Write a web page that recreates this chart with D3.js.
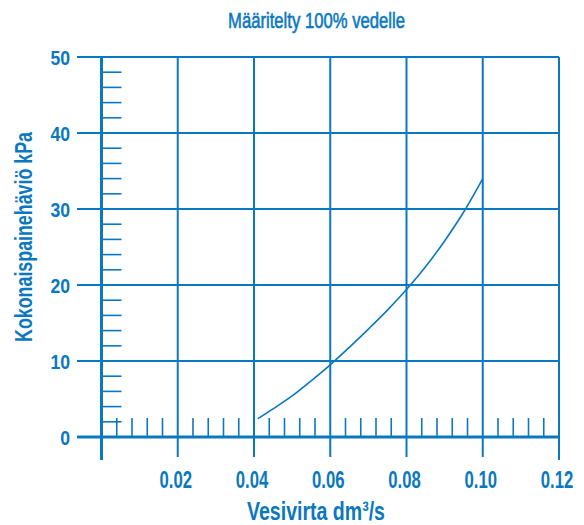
<!DOCTYPE html>
<html>
<head>
<meta charset="utf-8">
<script src="https://cdn.jsdelivr.net/npm/d3@7"></script>
<style>
  html, body { margin: 0; padding: 0; background: #fff; }
  svg { display: block; }
  text { font-family: "Liberation Sans", Arial, sans-serif; fill: #0a78c0; font-weight: bold; }
</style>
</head>
<body>
<svg id="chart" width="584" height="525"></svg>
<script>
// ---- data ----
const title = "Määritelty 100% vedelle";
const xTitle = "Vesivirta dm³/s";
const yTitle = "Kokonaispainehäviö kPa";
const xTicks = [0.02, 0.04, 0.06, 0.08, 0.10, 0.12];
const xTickLabels = ["0.02", "0.04", "0.06", "0.08", "0.10", "0.12"];
const yTicks = [0, 10, 20, 30, 40, 50];
const yMinor = [2, 4, 6, 8, 12, 14, 16, 18, 22, 24, 26, 28, 32, 34, 36, 38, 42, 44, 46, 48];
const xMinor = [0.004, 0.008, 0.012, 0.016, 0.024, 0.028, 0.032, 0.036, 0.044, 0.048, 0.052, 0.056,
                0.064, 0.068, 0.072, 0.076, 0.084, 0.088, 0.092, 0.096, 0.104, 0.108, 0.112, 0.116];
const flow =     [0.041, 0.045, 0.05, 0.055, 0.06, 0.065, 0.07, 0.075, 0.08, 0.085, 0.09, 0.095, 0.10];
const pressure = [2.4,   3.7,   5.4,  7.4,   9.5,  11.8,  14.2, 16.7,  19.4, 22.4,  25.8, 29.6,  34.0];

// ---- layout ----
const color = "#0a78c0";
const svg = d3.select("#chart");
const x = d3.scaleLinear().domain([0, 0.12]).range([101.5, 559]);
const y = d3.scaleLinear().domain([0, 50]).range([437, 57]);
const gridLeft = 77;

// squeeze a text horizontally around its anchor so that it reaches a target width
function squeeze(sel, widthFn) {
  sel.each(function(d, i) {
    const t = d3.select(this);
    const ax = +t.attr("x"), ay = +t.attr("y");
    const s = widthFn(d, i) / this.getComputedTextLength();
    t.attr("transform", `translate(${ax},${ay}) scale(${s},1) translate(${-ax},${-ay})`);
  });
}

// horizontal gridlines
svg.append("g").selectAll("line").data(yTicks.filter(d => d > 0)).join("line")
  .attr("x1", gridLeft).attr("x2", x(0.12))
  .attr("y1", d => y(d)).attr("y2", d => y(d))
  .attr("stroke", color).attr("stroke-width", 2);

// vertical gridlines
svg.append("g").selectAll("line").data(xTicks).join("line")
  .attr("x1", d => x(d)).attr("x2", d => x(d))
  .attr("y1", y(50)).attr("y2", d => d === 0.12 ? 460 : 457)
  .attr("stroke", color).attr("stroke-width", 2);

// y minor ticks
svg.append("g").selectAll("line").data(yMinor).join("line")
  .attr("x1", x(0)).attr("x2", x(0) + 20)
  .attr("y1", d => y(d)).attr("y2", d => y(d))
  .attr("stroke", color).attr("stroke-width", 1.6);

// x minor ticks
svg.append("g").selectAll("line").data(xMinor).join("line")
  .attr("x1", d => x(d)).attr("x2", d => x(d))
  .attr("y1", y(0)).attr("y2", y(0) - 19)
  .attr("stroke", color).attr("stroke-width", 1.6);

// axes lines
svg.append("line").attr("x1", gridLeft).attr("x2", x(0.12))
  .attr("y1", y(0)).attr("y2", y(0)).attr("stroke", color).attr("stroke-width", 3);
svg.append("line").attr("x1", x(0)).attr("x2", x(0))
  .attr("y1", y(50)).attr("y2", 460).attr("stroke", color).attr("stroke-width", 3);

// curve
const line = d3.line().x(d => x(d)).y((d, i) => y(pressure[i])).curve(d3.curveMonotoneX);
svg.append("path").attr("d", line(flow))
  .attr("fill", "none").attr("stroke", color).attr("stroke-width", 1.6);

// x tick labels
svg.append("g").selectAll("text").data(xTicks).join("text")
  .attr("x", d => x(d) - 2).attr("y", 488)
  .attr("text-anchor", "middle").attr("font-size", 23.5)
  .text((d, i) => xTickLabels[i])
  .call(squeeze, () => 32.5);

// y tick labels
svg.append("g").selectAll("text").data(yTicks).join("text")
  .attr("x", 70).attr("y", d => y(d) + 8.5)
  .attr("text-anchor", "end").attr("font-size", 21)
  .text(d => d)
  .call(squeeze, d => String(d).length * 9.8);

// title
svg.append("text").attr("x", 316.5).attr("y", 28.3)
  .attr("text-anchor", "middle").attr("font-size", 21.5).style("font-weight", "normal")
  .attr("stroke", color).attr("stroke-width", 0.6)
  .text(title)
  .call(squeeze, () => 177);

// x axis title
svg.append("text").attr("x", 316).attr("y", 520)
  .attr("text-anchor", "middle").attr("font-size", 25)
  .text(xTitle)
  .call(squeeze, () => 138);

// y axis title
const yt = svg.append("g").attr("transform", "translate(32,237) rotate(-90)");
yt.append("text").attr("x", 0).attr("y", 0)
  .attr("text-anchor", "middle").attr("font-size", 23)
  .text(yTitle)
  .call(squeeze, () => 210);
</script>
</body>
</html>
